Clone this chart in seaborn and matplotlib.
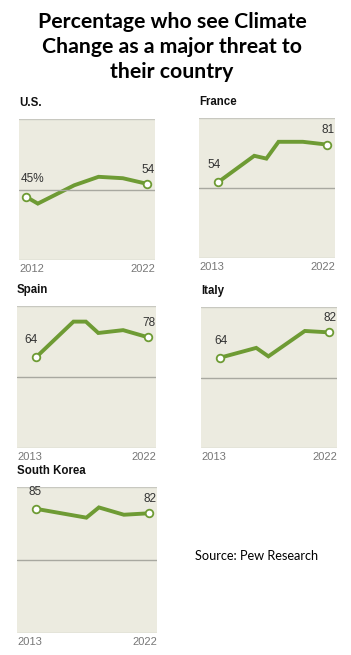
"""
Climate change as a major threat - small multiples
"""
from matplotlib import pyplot as plt
import pandas as pd
import seaborn as sns

# values
countries = ['U.S.', 'France', 'Spain', 'Italy', 'South Korea']
us_years = [2012, 2013, 2016, 2018, 2020, 2022]
us_vals = [45, 40, 53, 59, 58, 54]
fr_years = [2013, 2016, 2017, 2018, 2020, 2022]
fr_vals = [54, 73, 71, 83, 83, 81]
es_years = [2013, 2016, 2017, 2018, 2020, 2022]
es_vals = [64, 89, 89, 81, 83, 78]
it_years = [2013, 2016, 2017, 2020, 2022]
it_vals = [64, 71, 65, 83, 82]
kr_years = [2013, 2017, 2018, 2020, 2022]
kr_vals = [85, 79, 86, 81, 82]
first_labels = ['45%', '54', '64', '64', '85']
tick_labels = [('2012', '2022'), ('2013', '2022'), ('2013', '2022'),
               ('2013', '2022'), ('2013', '2022')]

series = [(us_years, us_vals), (fr_years, fr_vals), (es_years, es_vals),
          (it_years, it_vals), (kr_years, kr_vals)]
rows = []
for name, (yrs, vals) in zip(countries, series):
    for y, v in zip(yrs, vals):
        rows.append([name, y, v])
df = pd.DataFrame(rows, columns=['country', 'year', 'pct'])

sns.set_theme(style='white')
plt.rcParams['font.family'] = ['Liberation Sans', 'DejaVu Sans']

W, H = 351, 655
fig = plt.figure(figsize=(W / 100, H / 100), dpi=100)

# axes boxes in pixels: left, top, right, bottom
boxes = [(19, 119, 155, 260), (199, 118, 335, 258), (17, 306, 156, 448),
         (201, 307, 337, 448), (17, 487, 157, 633)]
# horizontal nudge of the first value label (points)
first_dx = [5, -3, -4, 1, -1]

green = '#6e9b34'
bg = '#ecebe0'

for i, name in enumerate(countries):
    l, t, r, b = boxes[i]
    ax = fig.add_axes([l / W, 1 - b / H, (r - l) / W, (b - t) / H])
    ax.set_facecolor(bg)
    d = df[df['country'] == name]
    sns.lineplot(data=d, x='year', y='pct', ax=ax, color=green, lw=2.8,
                 solid_joinstyle='miter', legend=False)
    ends = d.iloc[[0, -1]]
    ax.scatter(ends['year'], ends['pct'], s=30, facecolor='white',
               edgecolor=green, linewidth=1.3, zorder=5)
    ax.set_xlim(2011.45, 2022.65)
    ax.set_ylim(0, 100)
    for s in ax.spines.values():
        s.set_visible(False)
    ax.set_xticks([])
    ax.set_yticks([])
    ax.set_xlabel('')
    ax.set_ylabel('')
    ax.axhline(100, color='#c8c8c0', lw=1.0)
    ax.axhline(50, color='#a8a8a0', lw=1.0)
    ax.axhline(0, color='#c8c8c0', lw=1.0)

    # value labels
    ax.annotate(first_labels[i], (d['year'].iloc[0], d['pct'].iloc[0]),
                xytext=(first_dx[i], 8), textcoords='offset points',
                ha='center', va='bottom', fontsize=8.5, color='#333333')
    ax.annotate(str(d['pct'].iloc[-1]), (d['year'].iloc[-1], d['pct'].iloc[-1]),
                xytext=(1, 6), textcoords='offset points', ha='center',
                va='bottom', fontsize=8.5, color='#333333')

    # title and year labels
    ax.text(0, 1.07, name, transform=ax.transAxes, ha='left', va='bottom',
            fontsize=8.3, fontweight='bold', color='#111111')
    ax.text(0, -0.025, tick_labels[i][0], transform=ax.transAxes, ha='left',
            va='top', fontsize=8, color='#777777')
    ax.text(1, -0.025, tick_labels[i][1], transform=ax.transAxes, ha='right',
            va='top', fontsize=8, color='#777777')

fig.text(172 / W, 1 - 47 / H,
         'Percentage who see Climate\nChange as a major threat to\ntheir country',
         ha='center', va='center', fontsize=15.3, fontweight='bold',
         family=['Lato', 'DejaVu Sans'], linespacing=1.3, color='black')
fig.text(195 / W, 1 - 556 / H, 'Source: Pew Research', ha='left',
         va='center', fontsize=9.2, family=['Lato', 'DejaVu Sans'],
         color='black')

plt.savefig('out.png', dpi=100)
